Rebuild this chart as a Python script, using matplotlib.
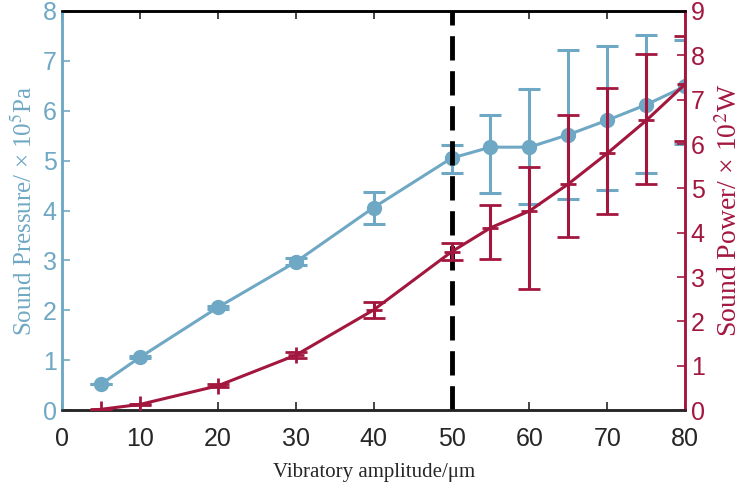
import matplotlib
matplotlib.use("Agg")
import matplotlib.pyplot as plt

# amplitude (um)
amplitude = [5, 10, 20, 30, 40, 50, 55, 60, 65, 70, 75, 80]

# sound pressure (x10^5 Pa) and error bar ends
pressure = [0.52, 1.06, 2.06, 2.97, 4.06, 5.05, 5.27, 5.27, 5.52, 5.81, 6.12, 6.49]
pressure_hi = [0.52, 1.08, 2.09, 3.04, 4.37, 5.32, 5.91, 6.43, 7.21, 7.29, 7.52, 7.41]
pressure_lo = [0.52, 1.04, 2.03, 2.90, 3.73, 4.76, 4.35, 4.14, 4.23, 4.42, 4.76, 5.33]

# sound power (x10^2 W) and error bar ends
power = [0.02, 0.13, 0.55, 1.24, 2.26, 3.57, 4.11, 4.49, 5.10, 5.79, 6.53, 7.35]
power_hi = [0.03, 0.15, 0.58, 1.31, 2.44, 3.76, 4.63, 5.49, 6.66, 7.26, 8.03, 8.43]
power_lo = [0.01, 0.11, 0.52, 1.17, 2.07, 3.39, 3.40, 2.73, 3.90, 4.42, 5.09, 6.06]

blue = "#6FA8C4"
red = "#A3173F"

plt.rcParams["mathtext.fontset"] = "stix"

fig = plt.figure(figsize=(7.48, 4.96), dpi=100)
ax1 = fig.add_axes([0.083, 0.173, 0.833, 0.805])
ax2 = ax1.twinx()

err_p = [[p - l for p, l in zip(pressure, pressure_lo)],
         [h - p for p, h in zip(pressure, pressure_hi)]]
err_w = [[p - l for p, l in zip(power, power_lo)],
         [h - p for p, h in zip(power, power_hi)]]

ax1.errorbar(amplitude, pressure, yerr=err_p, color=blue, lw=2.2, marker="o",
             markersize=10, capsize=8, elinewidth=2.2, capthick=2.2, zorder=3)
ax2.errorbar(amplitude, power, yerr=err_w, color=red, lw=2.2, marker="+",
             markersize=12, mew=2, capsize=8, elinewidth=2.2, capthick=2.2, zorder=3)
ax1.axvline(50, color="black", lw=3.5, dashes=(5, 2.2), zorder=4)

ax1.set_xlim(0, 80)
ax1.set_ylim(0, 8)
ax2.set_ylim(0, 9)
ax1.set_xticks(range(0, 81, 10))
ax1.set_yticks(range(0, 9))
ax2.set_yticks(range(0, 10))

tick_font = {"family": "Liberation Sans", "size": 18}
ax1.set_xticklabels([str(v) for v in range(0, 81, 10)], **tick_font, color="#262626")
ax1.set_yticklabels([str(v) for v in range(0, 9)], **tick_font, color=blue)
ax2.set_yticklabels([str(v) for v in range(0, 10)], **tick_font, color=red)

ax1.tick_params(axis="x", direction="in", top=True, length=6, width=1.2, colors="#262626", pad=12)
ax1.tick_params(axis="y", direction="in", length=6, width=1.2, colors=blue, pad=4)
ax2.tick_params(axis="y", direction="in", length=6, width=1.2, colors=red, pad=4)
ax1.tick_params(axis="x", labelcolor="#262626")

for ax in (ax1, ax2):
    ax.spines["top"].set_color("black")
    ax.spines["bottom"].set_color("#262626")
    ax.spines["left"].set_color(blue)
    ax.spines["right"].set_color(red)
    for s in ax.spines.values():
        s.set_linewidth(1.8)

ax1.set_xlabel("Vibratory amplitude/\u03bcm", family="Liberation Serif", size=15,
               color="#262626", labelpad=9)
ax1.set_ylabel("Sound Pressure/ \u00d7 10$^5$Pa", family="Liberation Serif", size=18,
               color=blue, labelpad=4)
ax2.set_ylabel("Sound Power/ \u00d7 10$^2$W", family="Liberation Serif", size=20,
               color=red, labelpad=8)

fig.savefig("out.png", dpi=100)
